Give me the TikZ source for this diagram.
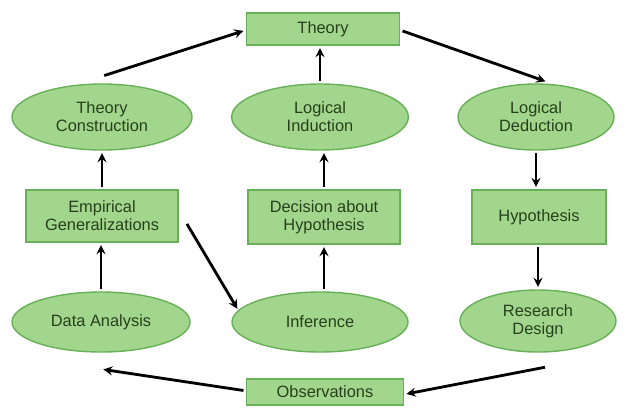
\documentclass[tikz,border=0pt]{standalone}
\usepackage{fontspec}
\setmainfont{Liberation Sans}
\usepackage{tikz}
\usetikzlibrary{shapes.geometric}
\definecolor{boxfill}{RGB}{163,214,141}
\definecolor{boxline}{RGB}{104,176,88}
\definecolor{boxtext}{RGB}{38,64,28}
\tikzset{
    research cycle/.style={
            x=0.03cm,y=-0.03cm,
            every node/.style={font=\fontsize{14}{15.5}\selectfont,text=boxtext,align=center,inner sep=0pt},
            stagebox/.style={draw=boxline,line width=1.2pt,fill=boxfill,rectangle},
            stageoval/.style={draw=boxline,line width=1.2pt,fill=boxfill,ellipse},
            arrow/.style={-stealth,line width=2.4pt,black,shorten <=2pt,shorten >=2pt}
        }
    }

\begin{document}
\begin{tikzpicture}[research cycle]
                \useasboundingbox (0,0) rectangle (627,407);
                \node (T) [stagebox,minimum width=4.6cm,minimum height=0.96cm] at (323,29) {Theory};
                \node (TC) [stageoval,minimum width=5.4cm,minimum height=1.98cm] at (102,117) {Theory\\Construction};
                \node (LI) [stageoval,minimum width=5.3cm,minimum height=1.98cm] at (320,117) {Logical\\Induction};
                \node (LD) [stageoval,minimum width=4.68cm,minimum height=1.98cm] at (536,117) {Logical\\Deduction};
                \node (EG) [stagebox,minimum width=4.56cm,minimum height=1.56cm] at (102,216) {Empirical\\Generalizations};
                \node (DH) [stagebox,minimum width=4.56cm,minimum height=1.62cm] at (324,217) {Decision about\\Hypothesis};
                \node (H) [stagebox,minimum width=4.02cm,minimum height=1.62cm] at (539,217) {Hypothesis};
                \node (DA) [stageoval,minimum width=5.34cm,minimum height=1.8cm] at (101,322) {Data Analysis};
                \node (I) [stageoval,minimum width=5.28cm,minimum height=1.8cm] at (320,322) {Inference};
                \node (RD) [stageoval,minimum width=4.68cm,minimum height=1.86cm] at (538,321) {Research\\Design};
                \node (O) [stagebox,minimum width=4.71cm,minimum height=0.78cm] at (325,392) {Observations};
                \draw [arrow] ([yshift=6pt]TC.north) -- ([yshift=-1pt]T.west);
                \draw [arrow] ([yshift=-1pt]T.east) -- ([xshift=10pt,yshift=1pt]LD.north);
                \draw [arrow] (LI.north) -- (LI.north |- T.south);
                \draw [arrow] (LD.south) -- (LD.south |- H.north);
                \draw [arrow] (H.south -| RD.north) -- (RD.north);
                \draw [arrow] ([xshift=8pt,yshift=-12pt]RD.south) -- ([yshift=-2pt]O.east);
                \draw [arrow] ([yshift=1pt]O.west) -- ([yshift=-14pt]DA.south);
                \draw [arrow] (DA.north) -- (DA.north |- EG.south);
                \draw [arrow] (EG.north) -- (EG.north |- TC.south);
                \draw [arrow] ([xshift=6pt,yshift=-5pt]EG.east) -- ([xshift=-16pt,yshift=-9pt]I.north west);
                \draw [arrow] (I.north -| DH.south) -- (DH.south);
                \draw [arrow] (DH.north) -- (DH.north |- LI.south);
            \end{tikzpicture}
\end{document}
